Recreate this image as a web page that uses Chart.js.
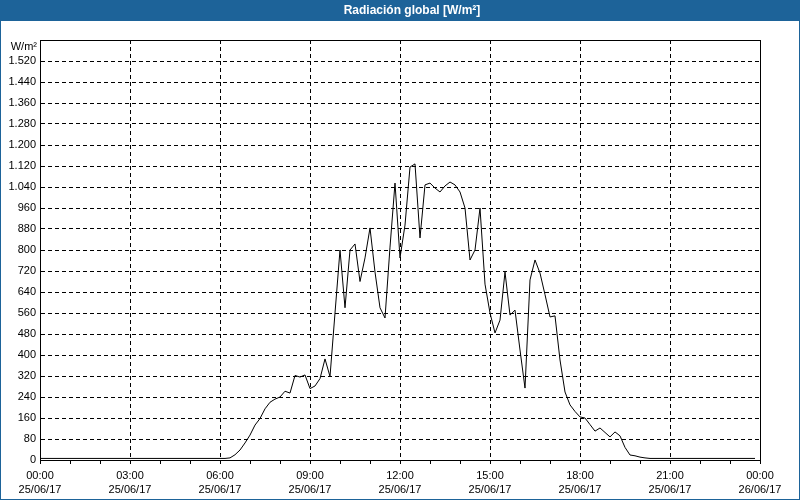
<!DOCTYPE html>
<html>
<head>
<meta charset="utf-8">
<script src="https://cdn.jsdelivr.net/npm/chart.js@4.4.0/dist/chart.umd.min.js"></script>
<style>
    html, body { margin: 0; padding: 0; background: #ffffff; }
    canvas { display: block; }
</style>
</head>
<body>
<canvas id="chart" width="800" height="500"></canvas>
<script>
const title = "Radiación global [W/m²]";
const unitLabel = "W/m²";

// 10 minute readings, 00:00 .. 23:50
const stepMinutes = 10;
const radiation = [
    6, 6, 6, 6, 6, 6, 6, 6, 6, 6,
    6, 6, 6, 6, 6, 6, 6, 6, 6, 6,
    6, 6, 6, 6, 6, 6, 6, 6, 6, 6,
    6, 6, 6, 6, 6, 6, 6, 6, 8, 20,
    38, 65, 95, 133, 158, 195, 220, 232, 240, 262,
    255, 322, 316, 324, 272, 282, 310, 385, 318, 560,
    800, 580, 800, 823, 680, 770, 884, 716, 580, 541,
    811, 1055, 770, 895, 1116, 1128, 846, 1048, 1055, 1036,
    1021, 1044, 1059, 1048, 1021, 960, 762, 800, 960, 670,
    560, 484, 533, 716, 552, 571, 419, 274, 686, 762,
    712, 630, 545, 549, 381, 259, 210, 185, 164, 160,
    135, 110, 122, 105, 88, 107, 92, 48, 19, 16,
    11, 8, 6, 6, 6, 6, 6, 6, 6, 6,
    6, 6, 6, 6, 6, 6, 6, 6, 6, 6,
    6, 6, 6, 6
];

const timeLabels = ["00:00", "03:00", "06:00", "09:00", "12:00", "15:00", "18:00", "21:00", "00:00"];
const dateLabels = ["25/06/17", "25/06/17", "25/06/17", "25/06/17", "25/06/17", "25/06/17", "25/06/17", "25/06/17", "26/06/17"];

const points = radiation.map((value, i) => ({ x: (i * stepMinutes) / 60, y: value }));

const barColor = "#1d6399";
const fontFamily = "'Liberation Sans', Arial, sans-serif";
const font = { family: fontFamily, size: 11 };

// title bar, outer border, plot frame and unit label
const frame = {
    id: "frame",
    beforeDraw(chart) {
        const { ctx, width, height } = chart;
        ctx.save();
        ctx.fillStyle = "#ffffff";
        ctx.fillRect(0, 0, width, height);
        ctx.fillStyle = barColor;
        ctx.fillRect(0, 0, width, 21);
        ctx.strokeStyle = barColor;
        ctx.lineWidth = 1;
        ctx.strokeRect(0.5, 0.5, width - 1, height - 1);
        ctx.fillStyle = "#ffffff";
        ctx.font = "bold 12px " + fontFamily;
        ctx.textAlign = "center";
        ctx.textBaseline = "middle";
        ctx.fillText(title, 412, 11);
        ctx.restore();
    },
    afterDraw(chart) {
        const { ctx, chartArea } = chart;
        ctx.save();
        ctx.strokeStyle = "#000000";
        ctx.lineWidth = 1;
        ctx.strokeRect(Math.round(chartArea.left) + 0.5, Math.round(chartArea.top) + 0.5,
            Math.round(chartArea.right - chartArea.left), Math.round(chartArea.bottom - chartArea.top));
        ctx.fillStyle = "#000000";
        ctx.font = "11px " + fontFamily;
        ctx.textAlign = "right";
        ctx.textBaseline = "middle";
        ctx.fillText(unitLabel, chartArea.left - 3, chartArea.top + 7);
        ctx.restore();
    }
};

new Chart(document.getElementById("chart"), {
    type: "line",
    data: {
        datasets: [{
            data: points,
            borderColor: "#000000",
            borderWidth: 1,
            pointRadius: 0,
            tension: 0,
            fill: false
        }]
    },
    options: {
        responsive: false,
        animation: false,
        devicePixelRatio: 1,
        layout: { padding: { top: 40, right: 40, bottom: 0, left: 0 } },
        plugins: {
            legend: { display: false },
            tooltip: { enabled: false },
            title: { display: false }
        },
        scales: {
            x: {
                type: "linear",
                min: 0,
                max: 24,
                ticks: {
                    stepSize: 1,
                    autoSkip: false,
                    maxRotation: 0,
                    padding: 4,
                    color: "#000000",
                    font: { ...font, lineHeight: 1.36 },
                    callback: (value) => value % 3 === 0 ? [timeLabels[value / 3], dateLabels[value / 3]] : ""
                },
                grid: {
                    color: (ctx) => ctx.tick && ctx.tick.value % 3 === 0 ? "#000000" : "rgba(0,0,0,0)",
                    tickColor: "#000000",
                    tickLength: 4
                },
                border: { color: "#000000", dash: [4, 3] },
                afterFit: (scale) => { scale.height = 40; }
            },
            y: {
                min: 0,
                max: 1600,
                ticks: {
                    stepSize: 80,
                    padding: 4,
                    color: "#000000",
                    font,
                    callback: (value) => value === 1600 ? "" : value.toLocaleString("de-DE")
                },
                grid: { color: "#000000", drawTicks: false },
                border: { color: "#000000", dash: [4, 3] },
                afterFit: (scale) => { scale.width = 40; }
            }
        }
    },
    plugins: [frame]
});
</script>
</body>
</html>
